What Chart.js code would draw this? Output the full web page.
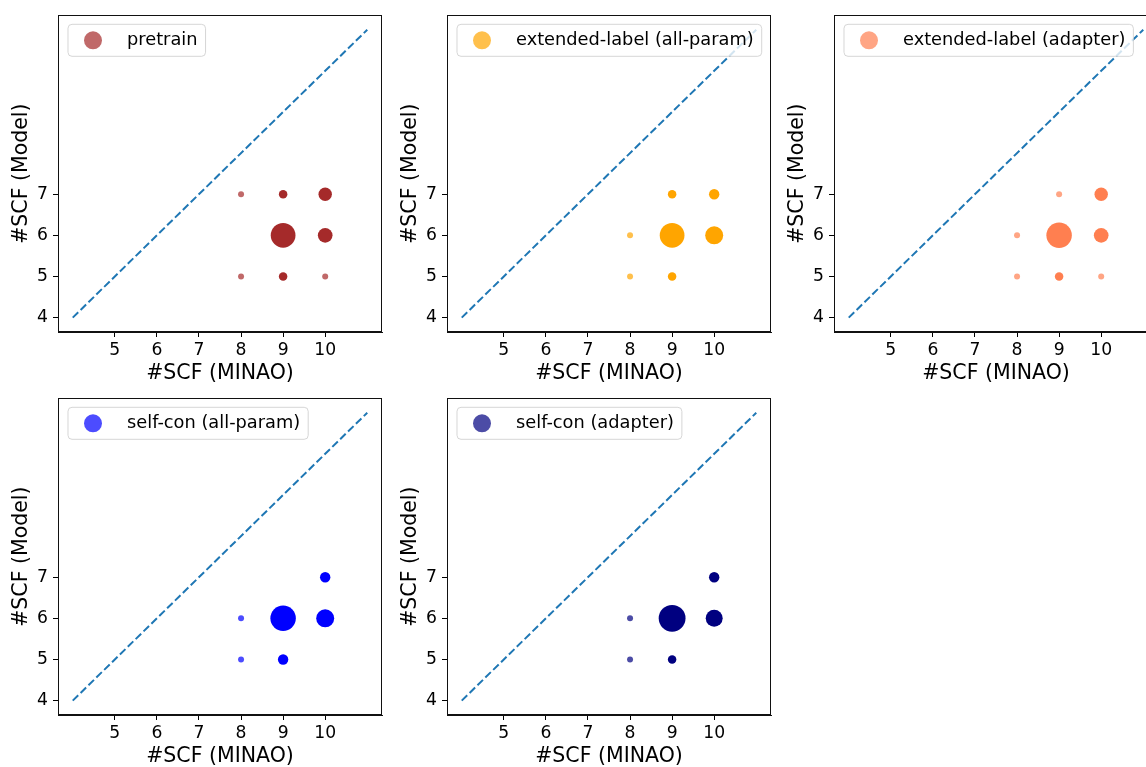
<!DOCTYPE html>
<html>
<head>
<meta charset="utf-8">
<script src="https://cdn.jsdelivr.net/npm/chart.js@4"></script>
<style>
  html, body { margin: 0; padding: 0; background: #fff; overflow: hidden; }
  #fig { position: relative; width: 1146px; height: 767px; overflow: hidden; background: #fff; }
  #fig canvas { position: absolute; }
</style>
</head>
<body>
<div id="fig">
  <canvas id="c0" width="388" height="392" style="left:0px;top:0px"></canvas>
  <canvas id="c1" width="388" height="392" style="left:389px;top:0px"></canvas>
  <canvas id="c2" width="388" height="392" style="left:776px;top:0px"></canvas>
  <canvas id="c3" width="388" height="392" style="left:0px;top:383px"></canvas>
  <canvas id="c4" width="388" height="392" style="left:389px;top:383px"></canvas>
</div>
<script>
// ---- Data ----
const xTicks = [5, 6, 7, 8, 9, 10];
const yTicks = [4, 5, 6, 7];
const diagonal = [4, 11];
const axisMin = 3.65;
const axisMax = 11.35;
const xTitle = '#SCF (MINAO)';
const yTitle = '#SCF (Model)';

const panelLabels = ['pretrain', 'extended-label (all-param)', 'extended-label (adapter)', 'self-con (all-param)', 'self-con (adapter)'];
const panelColors = ['#A52A2A', '#FFA500', '#FF7F50', '#0000FF', '#000080'];

const pretrainX = [8, 9, 10, 9, 10, 8, 9, 10];
const pretrainY = [7, 7, 7, 6, 6, 5, 5, 5];
const pretrainN = [1, 2, 5, 17, 6, 1, 2, 1];

const extAllX = [9, 10, 8, 9, 10, 8, 9];
const extAllY = [7, 7, 6, 6, 6, 5, 5];
const extAllN = [2, 3, 1, 17, 9, 1, 2];

const extAdapterX = [9, 10, 8, 9, 10, 8, 9, 10];
const extAdapterY = [7, 7, 6, 6, 6, 5, 5, 5];
const extAdapterN = [1, 5, 1, 18, 6, 1, 2, 1];

const selfAllX = [10, 8, 9, 10, 8, 9];
const selfAllY = [7, 6, 6, 6, 5, 5];
const selfAllN = [3, 1, 18, 9, 1, 3];

const selfAdapterX = [10, 8, 9, 10, 8, 9];
const selfAdapterY = [7, 6, 6, 6, 5, 5];
const selfAdapterN = [3, 1, 20, 8, 1, 2];

const panelX = [pretrainX, extAllX, extAdapterX, selfAllX, selfAdapterX];
const panelY = [pretrainY, extAllY, extAdapterY, selfAllY, selfAdapterY];
const panelN = [pretrainN, extAllN, extAdapterN, selfAllN, selfAdapterN];

// ---- Styling helpers ----
const FONT = 'DejaVu Sans';
function rgba(hex, a) {
  const r = parseInt(hex.slice(1, 3), 16), g = parseInt(hex.slice(3, 5), 16), b = parseInt(hex.slice(5, 7), 16);
  return `rgba(${r},${g},${b},${a})`;
}
function radiusFor(n) { return 3 * Math.sqrt(n); }
function alphaFor(n) { return n <= 1 ? 0.7 : 1; }

const framePlugin = {
  id: 'frameAndLegend',
  afterDatasetsDraw(chart, args, opts) {
    const { ctx, chartArea: a } = chart;
    ctx.save();
    // frame
    ctx.strokeStyle = '#111';
    ctx.lineWidth = 1;
    ctx.strokeRect(Math.round(a.left) + 0.5, Math.round(a.top) + 0.5, Math.round(a.right - a.left) - 1, Math.round(a.bottom - a.top) - 1);
    // legend
    const label = opts.label, color = opts.color;
    ctx.font = `17.8px "${FONT}"`;
    const tw = ctx.measureText(label).width;
    const bx = a.left + 10, by = a.top + 9, bh = 32;
    const textX = a.left + 69;
    const bw = textX + tw + 8 - bx;
    const rr = 4;
    ctx.beginPath();
    ctx.moveTo(bx + rr, by);
    ctx.lineTo(bx + bw - rr, by);
    ctx.quadraticCurveTo(bx + bw, by, bx + bw, by + rr);
    ctx.lineTo(bx + bw, by + bh - rr);
    ctx.quadraticCurveTo(bx + bw, by + bh, bx + bw - rr, by + bh);
    ctx.lineTo(bx + rr, by + bh);
    ctx.quadraticCurveTo(bx, by + bh, bx, by + bh - rr);
    ctx.lineTo(bx, by + rr);
    ctx.quadraticCurveTo(bx, by, bx + rr, by);
    ctx.closePath();
    ctx.fillStyle = 'rgba(255,255,255,0.8)';
    ctx.fill();
    ctx.strokeStyle = 'rgba(204,204,204,0.8)';
    ctx.lineWidth = 1;
    ctx.stroke();
    ctx.beginPath();
    ctx.arc(a.left + 35, by + bh / 2, 9, 0, Math.PI * 2);
    ctx.fillStyle = rgba(color, 0.7);
    ctx.fill();
    ctx.fillStyle = '#000';
    ctx.textBaseline = 'middle';
    ctx.textAlign = 'left';
    ctx.fillText(label, textX, by + bh / 2);
    ctx.restore();
  }
};

function makePanel(i) {
  const xs = panelX[i], ys = panelY[i], ns = panelN[i];
  const color = panelColors[i];
  const points = xs.map((x, k) => ({ x: x, y: ys[k], r: radiusFor(ns[k]) }));
  const colors = ns.map(n => rgba(color, alphaFor(n)));
  const line = diagonal.map(v => ({ x: v, y: v }));
  new Chart(document.getElementById('c' + i), {
    type: 'bubble',
    data: {
      datasets: [
        {
          type: 'bubble',
          label: panelLabels[i],
          data: points,
          backgroundColor: colors,
          borderWidth: 0,
          hoverBorderWidth: 0,
          order: 2
        },
        {
          type: 'line',
          label: 'diag',
          data: line,
          borderColor: '#1f77b4',
          borderWidth: 2,
          borderDash: [7.7, 3.3],
          pointRadius: 0,
          fill: false,
          tension: 0,
          order: 1
        }
      ]
    },
    options: {
      responsive: false,
      animation: false,
      devicePixelRatio: 1,
      layout: { autoPadding: false, padding: { top: 13, right: 6, left: 0, bottom: 0 } },
      plugins: {
        legend: { display: false },
        tooltip: { enabled: false },
        frameAndLegend: { label: panelLabels[i], color: color }
      },
      scales: {
        x: {
          type: 'linear',
          min: axisMin,
          max: axisMax,
          afterBuildTicks: s => { s.ticks = xTicks.map(v => ({ value: v })); },
          afterFit: s => { s.height = 60; },
          grid: { display: true, drawOnChartArea: false, drawTicks: true, tickLength: 5, tickColor: '#000', tickWidth: 1 },
          border: { display: true, color: '#111', width: 1 },
          ticks: { font: { family: FONT, size: 17.2 }, color: '#000', padding: 3, maxRotation: 0, autoSkip: false },
          title: { display: true, text: xTitle, font: { family: FONT, size: 20.5 }, color: '#000', padding: { top: 0, bottom: 6 } }
        },
        y: {
          type: 'linear',
          min: axisMin,
          max: axisMax,
          afterBuildTicks: s => { s.ticks = yTicks.map(v => ({ value: v })); },
          afterFit: s => { s.width = 58; },
          grid: { display: true, drawOnChartArea: false, drawTicks: true, tickLength: 5, tickColor: '#000', tickWidth: 1 },
          border: { display: true, color: '#111', width: 1 },
          ticks: { font: { family: FONT, size: 17.2 }, color: '#000', padding: 5, autoSkip: false },
          title: { display: true, text: yTitle, font: { family: FONT, size: 20.5 }, color: '#000', padding: { top: 9, bottom: 0 } }
        }
      }
    },
    plugins: [framePlugin]
  });
}
for (let i = 0; i < 5; i++) makePanel(i);
</script>
</body>
</html>
